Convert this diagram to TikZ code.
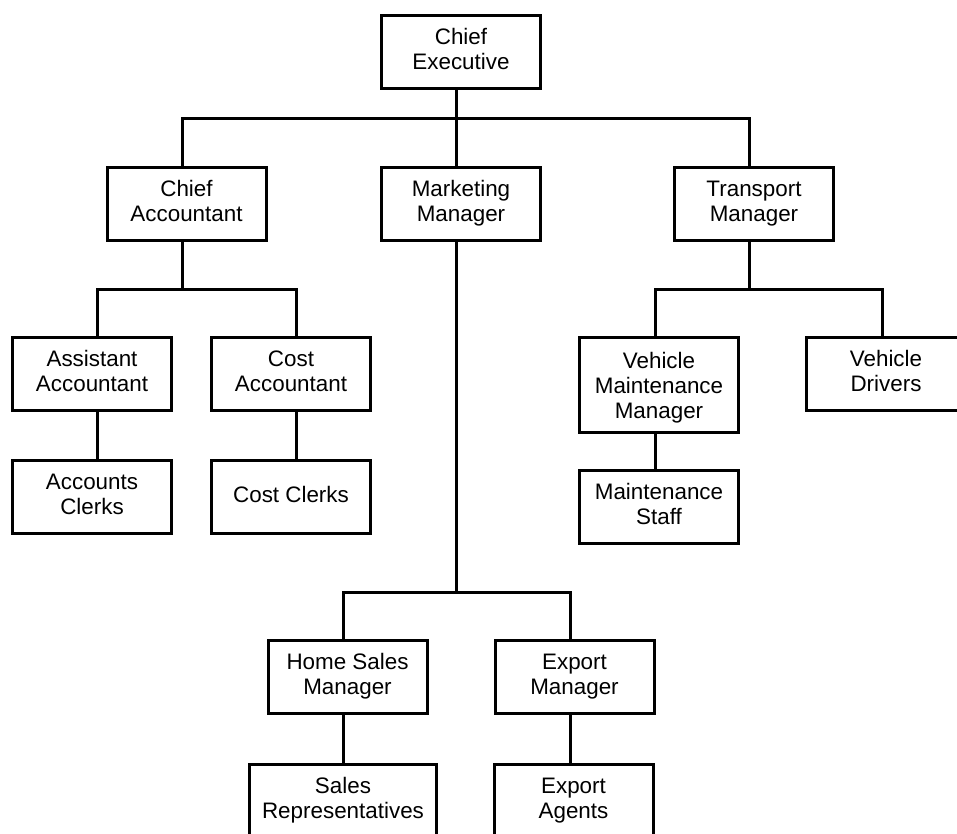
\documentclass[tikz,border=0pt]{standalone}
\usepackage{fontspec}
\setmainfont{Liberation Sans}
\begin{document}
\begin{tikzpicture}[x=1pt,y=-1pt,
  post/.style={draw, line width=3pt, minimum width=159pt, minimum height=73pt,
    inner sep=0pt, align=center, text height=41pt, text depth=6pt,
    font=\fontsize{22.4}{25}\selectfont},
  oneline/.style={text height=16pt, text depth=6pt},
  threeline/.style={minimum height=95pt, text height=66pt, text depth=0pt},
  conn/.style={line width=3pt}]
\fill[white] (0,0) rectangle (957,834);
\path[use as bounding box] (0,0) rectangle (957,834);
\clip (0,0) rectangle (957,834);

% staff posts
\node[post] (ce)  at (461,52.5)  {Chief\\Executive};
\node[post] (ca)  at (186.5,204) {Chief\\Accountant};
\node[post] (mm)  at (461,204)   {Marketing\\Manager};
\node[post] (tm)  at (754,204)   {Transport\\Manager};
\node[post] (aa)  at (92,374)    {Assistant\\Accountant};
\node[post] (cac) at (291,374)   {Cost\\Accountant};
\node[post] (ac)  at (92,497)    {Accounts\\Clerks};
\node[post, oneline] (cc) at (291,497) {Cost Clerks};
\node[post, threeline] (vmm) at (659,385) {Vehicle\\Maintenance\\Manager};
\node[post] (ms)  at (659,506.5) {Maintenance\\Staff};
\node[post] (vd)  at (886,374)   {Vehicle\\Drivers};
\node[post] (hs)  at (347.5,677) {Home Sales\\Manager};
\node[post] (em)  at (574.5,677) {Export\\Manager};
\node[post, minimum width=187pt] (sr) at (343,801) {Sales\\Representatives};
\node[post] (ea)  at (573.5,801) {Export\\Agents};

% junctions on the reporting lines
\coordinate (tA) at (182,119);
\coordinate (tM) at (456.5,119);
\coordinate (tT) at (749,119);
\coordinate (aA) at (97,289);
\coordinate (aC) at (296,289);
\coordinate (vM) at (655,289);
\coordinate (vD) at (882,289);
\coordinate (hH) at (343,592);
\coordinate (hE) at (570,592);

% top level
\draw[conn] (ce.south -| tM) -- (mm.north -| tM);
\draw[conn] (ca.north -| tA) |- (tT) -- (tT |- tm.north);

% accounts branch
\draw[conn] (ca.south -| tA) -- (tA |- aA);
\draw[conn] (aa.north -| aA) |- (aC) -- (aC |- cac.north);
\draw[conn] (aa.south -| aA) -- (ac.north -| aA);
\draw[conn] (cac.south -| aC) -- (cc.north -| aC);

% transport branch
\draw[conn] (tm.south -| tT) -- (tT |- vM);
\draw[conn] (vmm.north -| vM) |- (vD) -- (vD |- vd.north);
\draw[conn] (vmm.south -| vM) -- (ms.north -| vM);

% marketing branch
\draw[conn] (mm.south -| tM) -- (tM |- hH);
\draw[conn] (hs.north -| hH) |- (hE) -- (hE |- em.north);
\draw[conn] (hs.south -| hH) -- (sr.north -| hH);
\draw[conn] (em.south -| hE) -- (ea.north -| hE);
\end{tikzpicture}
\end{document}
